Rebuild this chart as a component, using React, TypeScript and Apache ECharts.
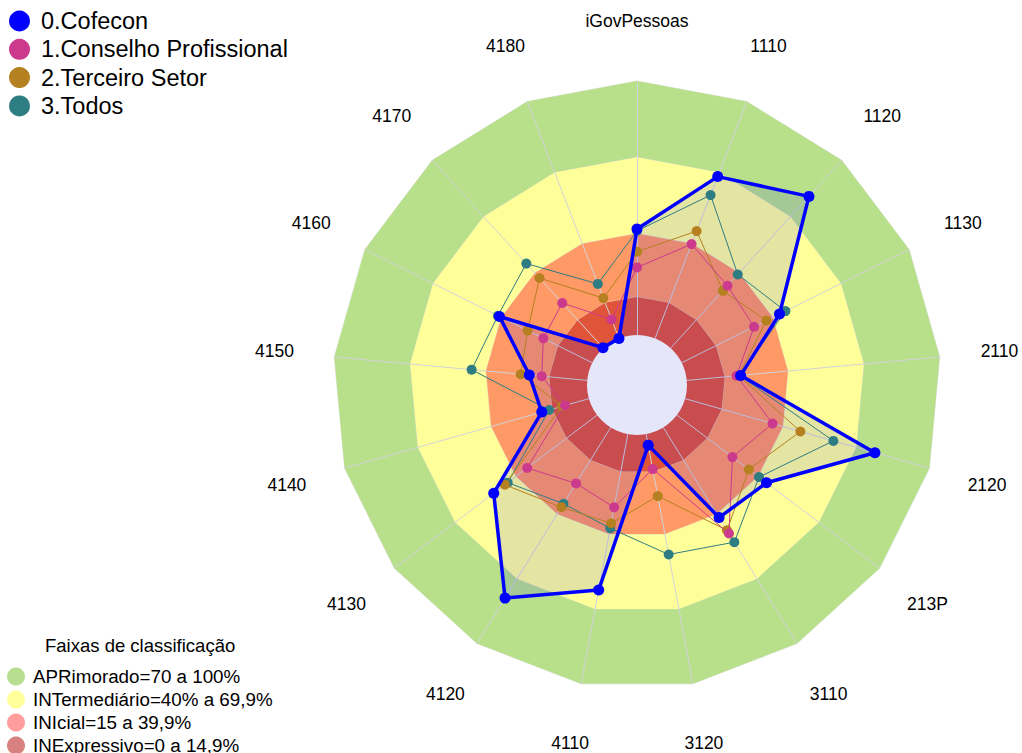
import React, { useEffect, useRef } from "react";
import * as echarts from "echarts";

const categories = ["iGovPessoas", "1110", "1120", "1130", "2110", "2120", "213P", "3110", "3120", "4110", "4120", "4130", "4140", "4150", "4160", "4170", "4180"];
const seriesNames = ["0.Cofecon", "1.Conselho Profissional", "2.Terceiro Setor", "3.Todos"];
const cofecon = [41.7, 68.3, 80.8, 43.0, 21.3, 77.7, 44.2, 41.7, 4.4, 62.4, 79.0, 51.0, 19.3, 22.9, 40.8, 0.2, 0];
const conselho = [26.6, 39.8, 33.2, 31.8, 19.7, 35.8, 27.4, 49.1, 14.0, 29.3, 25.9, 34.5, 9.8, 18.0, 21.5, 24.0, 8.0];
const terceiro = [32.8, 45.3, 30.5, 37.2, 20.5, 47.2, 35.5, 47.6, 24.8, 35.7, 36.9, 45.5, 11.0, 26.3, 28.4, 37.3, 17.0];
const todos = [41.0, 60.5, 39.2, 45.6, 20.8, 60.7, 40.5, 53.1, 48.2, 37.7, 35.3, 44.1, 16.3, 45.7, 41.5, 45.0, 23.0];
const bandNames = ["APRimorado=70 a 100%", "INTermediário=40% a 69,9%", "INIcial=15 a 39,9%", "INExpressivo=0 a 14,9%"];
const bandUpper = [100, 70, 40, 15];

const FONT = "'Liberation Sans', Arial, sans-serif";
const seriesColors = ["#0000ff", "#cc3a8e", "#b5801f", "#2e7d82"];
const bandColors = ["#b8e08a", "#ffff99", "#ff9966", "#e0553a"];
const bandLegendColors = ["#b7de8e", "#ffff9c", "#ff9c9c", "#d98080"];
const CX = 637;
const CY = 385;
const R_IN = 50;
const R_OUT = 304;
const LABEL_R = 364;

// ECharts radar goes counter-clockwise; reorder so the chart reads clockwise.
const toRadarOrder = <T,>(arr: T[]): T[] => [arr[0], ...arr.slice(1).reverse()];

export default function App() {
  const ref = useRef<HTMLDivElement>(null);
  useEffect(() => {
    if (!ref.current) return;
    const chart = echarts.init(ref.current, undefined, { renderer: "svg" });
    const n = categories.length;
    const labelGraphics = categories.map((c, i) => {
      const a = (i * 2 * Math.PI) / n;
      return {
        type: "text",
        x: CX + LABEL_R * Math.sin(a),
        y: CY - LABEL_R * Math.cos(a),
        z: 10,
        silent: true,
        style: {
          text: c,
          fontSize: 17.5,
          fontFamily: FONT,
          fill: "#000",
          align: "center",
          verticalAlign: "middle",
          textAlign: "center",
          textVerticalAlign: "middle",
        },
      };
    });
    const lineSeries = [
      { name: seriesNames[3], vals: todos, z: 4, width: 1, size: 10, color: seriesColors[3] },
      { name: seriesNames[2], vals: terceiro, z: 5, width: 1, size: 10, color: seriesColors[2] },
      { name: seriesNames[1], vals: conselho, z: 6, width: 1, size: 10, color: seriesColors[1] },
      { name: seriesNames[0], vals: cofecon, z: 7, width: 3.5, size: 11, color: seriesColors[0] },
    ].map((s) => ({
      type: "radar",
      name: s.name,
      z: s.z,
      silent: true,
      symbol: "circle",
      symbolSize: s.size,
      lineStyle: { width: s.width, color: s.color },
      itemStyle: { color: s.color },
      data: [{ name: s.name, value: toRadarOrder(s.vals) }],
    }));
    const option: any = {
      animation: false,
      textStyle: { fontFamily: FONT },
      title: {
        text: "Faixas de classificação",
        left: 45,
        top: 636,
        padding: 0,
        textStyle: { fontSize: 18.5, fontWeight: "normal", color: "#000", fontFamily: FONT },
      },
      legend: [
        {
          data: seriesNames.map((nm, i) => ({ name: nm, itemStyle: { color: seriesColors[i] } })),
          orient: "vertical",
          left: 9,
          top: 9,
          padding: 0,
          icon: "circle",
          itemWidth: 21,
          itemHeight: 21,
          itemGap: 4.3,
          selectedMode: false,
          textStyle: { fontSize: 23.5, color: "#000", fontFamily: FONT, padding: [0, 0, 0, 6] },
        },
        {
          data: bandNames.map((nm, i) => ({ name: nm, itemStyle: { color: bandLegendColors[i] } })),
          orient: "vertical",
          left: 7,
          top: 667,
          height: 100,
          padding: 0,
          icon: "circle",
          itemWidth: 18,
          itemHeight: 18,
          itemGap: 4,
          selectedMode: false,
          textStyle: { fontSize: 18.8, color: "#000", fontFamily: FONT, padding: [0, 0, 0, 3] },
        },
      ],
      radar: {
        center: [CX, CY],
        radius: [R_IN, R_OUT],
        startAngle: 90,
        shape: "polygon",
        z: 1.5,
        indicator: toRadarOrder(categories).map((c) => ({ name: c, min: 0, max: 100 })),
        axisName: { show: false },
        axisLine: { show: true, lineStyle: { color: "#d2d2da", width: 1 } },
        axisTick: { show: false },
        axisLabel: { show: false },
        splitLine: { show: false },
        splitArea: { show: false },
      },
      graphic: [
        { type: "circle", z: 3, silent: true, shape: { cx: CX, cy: CY, r: R_IN }, style: { fill: "#e6e6fa" } },
        ...labelGraphics,
      ],
      series: [
        {
          type: "radar",
          z: 1,
          silent: true,
          symbol: "none",
          data: bandUpper.map((u, i) => ({
            name: bandNames[i],
            value: categories.map(() => u),
            areaStyle: { color: bandColors[i], opacity: 1 },
            lineStyle: { color: "rgba(215,215,215,0.7)", width: 1 },
            itemStyle: { color: bandLegendColors[i] },
          })),
        },
        {
          type: "radar",
          name: seriesNames[0],
          z: 2,
          silent: true,
          symbol: "none",
          lineStyle: { width: 0, opacity: 0 },
          itemStyle: { color: seriesColors[0] },
          areaStyle: { color: "rgba(0,0,255,0.1)", opacity: 1 },
          data: [{ name: seriesNames[0], value: toRadarOrder(cofecon) }],
        },
        ...lineSeries,
      ],
    };
    chart.setOption(option);
    return () => chart.dispose();
  }, []);
  return <div ref={ref} style={{ position: "absolute", left: 0, top: 0, width: 1022, height: 753 }} />;
}
